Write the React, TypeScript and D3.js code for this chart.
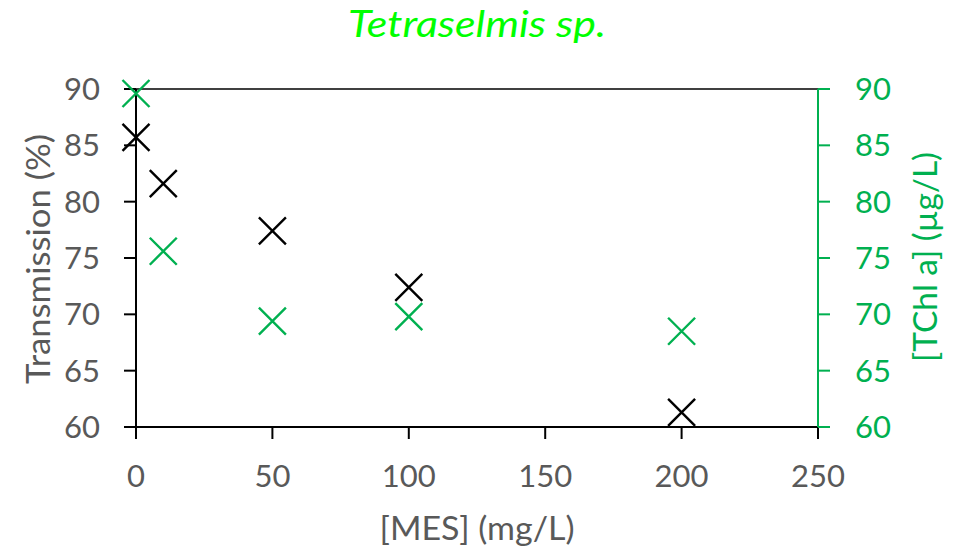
import React from "react";
import * as d3 from "d3";

const mes = [0, 10, 50, 100, 200];
const transmission = [85.7, 81.6, 77.4, 72.4, 61.3];
const tchla = [89.6, 75.6, 69.4, 69.8, 68.5];
const xTicks = [0, 50, 100, 150, 200, 250];
const yTicks = [60, 65, 70, 75, 80, 85, 90];
const title = "Tetraselmis sp.";
const xLabel = "[MES] (mg/L)";
const yLabel = "Transmission (%)";
const y2Label = "[TChl a] (µg/L)";

const W = 953;
const H = 551;
const M = { left: 136, right: 818, top: 89, bottom: 427 };
const GRAY = "#595959";
const GREEN = "#00B050";
const FONT = "Lato, 'Open Sans', sans-serif";

export default function App() {
  const x = d3.scaleLinear().domain([0, 250]).range([M.left, M.right]);
  const y = d3.scaleLinear().domain([60, 90]).range([M.bottom, M.top]);
  const y2 = d3.scaleLinear().domain([60, 90]).range([M.bottom, M.top]);
  const s = 13.5;
  const cross = (cx: number, cy: number, color: string, key: string) => (
    <path
      key={key}
      d={`M${cx - s},${cy - s}L${cx + s},${cy + s}M${cx - s},${cy + s}L${cx + s},${cy - s}`}
      stroke={color}
      strokeWidth={2.4}
      fill="none"
    />
  );
  return (
    <svg
      width={W}
      height={H}
      style={{ position: "absolute", left: 0, top: 0, background: "#fff" }}
      fontFamily={FONT}
    >
      <rect width={W} height={H} fill="#fff" />
      {/* top border */}
      <line x1={M.left} x2={M.right} y1={M.top} y2={M.top} stroke="#000" strokeWidth={1.5} />
      {/* bottom axis */}
      <line x1={M.left} x2={M.right} y1={M.bottom} y2={M.bottom} stroke="#000" strokeWidth={2} />
      {xTicks.map((t) => (
        <g key={"xt" + t}>
          <line x1={x(t)} x2={x(t)} y1={M.bottom} y2={M.bottom + 12} stroke="#000" strokeWidth={2} />
          <text x={x(t)} y={487} textAnchor="middle" fontSize={31} fill={GRAY}>
            {t}
          </text>
        </g>
      ))}
      {/* left axis */}
      <line x1={M.left} x2={M.left} y1={M.top} y2={M.bottom} stroke="#000" strokeWidth={2} />
      {yTicks.map((t) => (
        <g key={"yt" + t}>
          <line x1={M.left - 12} x2={M.left} y1={y(t)} y2={y(t)} stroke="#000" strokeWidth={2} />
          <text x={100} y={y(t)} dy="0.36em" textAnchor="end" fontSize={31} fill={GRAY}>
            {t}
          </text>
        </g>
      ))}
      {/* right axis */}
      <line x1={M.right} x2={M.right} y1={M.top} y2={M.bottom} stroke={GREEN} strokeWidth={2} />
      {yTicks.map((t) => (
        <g key={"y2t" + t}>
          <line x1={M.right} x2={M.right + 12} y1={y2(t)} y2={y2(t)} stroke={GREEN} strokeWidth={2} />
          <text x={855} y={y2(t)} dy="0.36em" textAnchor="start" fontSize={31} fill={GREEN}>
            {t}
          </text>
        </g>
      ))}
      {/* titles */}
      <text
        x={477}
        y={37}
        textAnchor="middle"
        fontSize={36}
        fontStyle="italic"
        fill="#00FF00"
        textLength={258}
        lengthAdjust="spacingAndGlyphs"
      >
        {title}
      </text>
      <text
        x={477}
        y={540}
        textAnchor="middle"
        fontSize={32}
        fill={GRAY}
        textLength={195}
        lengthAdjust="spacingAndGlyphs"
      >
        {xLabel}
      </text>
      <text
        transform={`translate(50,259) rotate(-90)`}
        textAnchor="middle"
        fontSize={33}
        fill={GRAY}
        textLength={250}
        lengthAdjust="spacingAndGlyphs"
      >
        {yLabel}
      </text>
      <text
        transform={`translate(937,257) rotate(-90)`}
        textAnchor="middle"
        fontSize={32}
        fill={GREEN}
        textLength={210}
        lengthAdjust="spacingAndGlyphs"
      >
        {y2Label}
      </text>
      {/* markers */}
      {mes.map((m, i) => cross(x(m), y2(tchla[i]), GREEN, "g" + i))}
      {mes.map((m, i) => cross(x(m), y(transmission[i]), "#000", "b" + i))}
    </svg>
  );
}
